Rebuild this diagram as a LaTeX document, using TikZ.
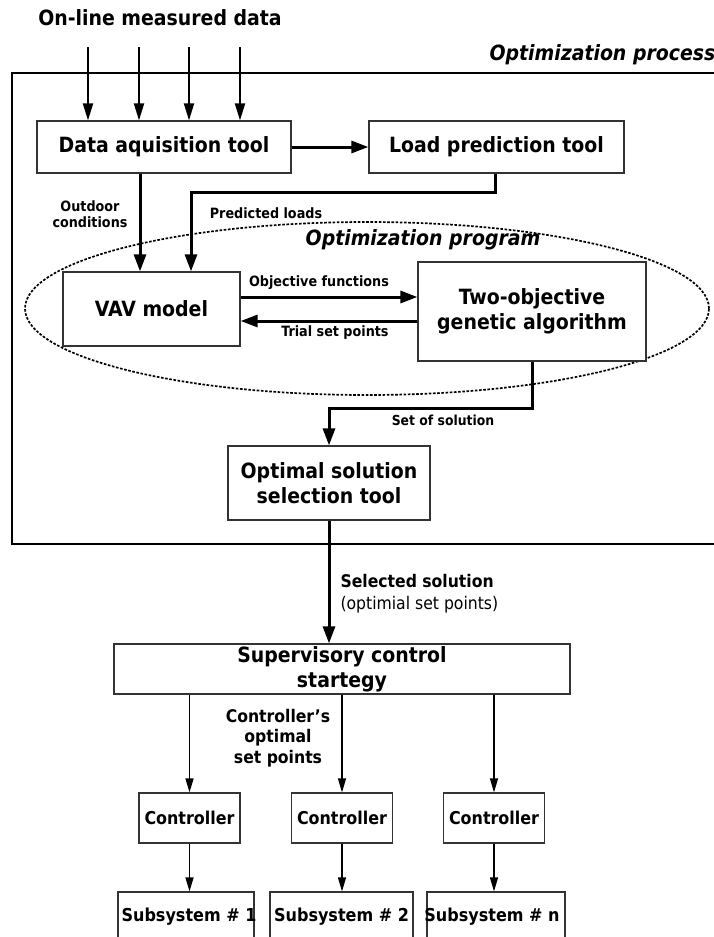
\documentclass[tikz,border=0pt]{standalone}
\usepackage{fontspec}
\setmainfont{DejaVu Sans Condensed}
\usetikzlibrary{arrows.meta}
\tikzset{
  tool/.style={draw=black!80, line width=1.2pt, fill=white, inner sep=2pt, align=center, font=\bfseries\fontsize{21}{25}\selectfont},
  ctrlbox/.style={tool, minimum width=101pt, minimum height=50pt, font=\bfseries\fontsize{17.7}{20}\selectfont},
  bigarr/.style={line width=3pt, -{Triangle[length=17pt, width=12pt]}},
  inarr/.style={line width=2pt, -{Triangle[length=17pt, width=10pt]}},
  thinarr/.style={line width=1.3pt, -{Triangle[length=14pt, width=8pt]}},
  lbl/.style={font=\bfseries\fontsize{14.2}{16.5}\selectfont, align=center},
  subtxt/.style={font=\bfseries\fontsize{17.8}{20}\selectfont},
}
\begin{document}
\begin{tikzpicture}[x=1pt, y=-1pt]
    \useasboundingbox (0,0) rectangle (714,937);
    \clip (0,0) rectangle (714,937);

    % outer frame
    \draw[line width=2pt] (12,73) rectangle (740,544);
    \node[font=\bfseries\itshape\fontsize{21}{24}\selectfont, anchor=west] (procname) at (486,55) {Optimization process};
    \node[font=\bfseries\fontsize{21}{24}\selectfont] (online) at (160,18) {On-line measured data};

    % tools
    \node[tool, minimum width=254pt, minimum height=52pt] (daq) at (164,147) {Data aquisition tool};
    \node[tool, minimum width=255pt, minimum height=52pt] (load) at (496.5,147) {Load prediction tool};

    % optimization program
    \draw[line width=1.7pt, dash pattern=on 2.6pt off 1.6pt] (367,308.5) ellipse [x radius=342pt, y radius=86.5pt];
    \node[font=\bfseries\itshape\fontsize{21}{24}\selectfont] (progname) at (423,240) {Optimization program};
    \node[tool, minimum width=177pt, minimum height=74pt] (vav) at (151.5,309) {VAV model};
    \node[tool, minimum width=228pt, minimum height=99pt] (ga) at (532,311.5) {Two-objective\\genetic algorithm};
    \node[tool, minimum width=202pt, minimum height=74pt] (opt) at (329,483) {Optimal solution\\selection tool};
    \node[tool, minimum width=456pt, minimum height=50pt] (sup) at (342,669) {Supervisory control\\startegy};

    % measured inputs
    \foreach \x [count=\i] in {88,139,189,240} {
        \coordinate (in\i) at (\x,47);
        \draw[inarr] (in\i) -- (in\i |- daq.north);
    }

    % thick connectors
    \draw[bigarr] (daq.east) -- (load.west);
    \draw[bigarr] ([xshift=-24pt]daq.south) -- ([xshift=-11.5pt]vav.north);
    \draw[bigarr] ([xshift=-1.5pt]load.south) -- ++(0,19) -| ([xshift=39.5pt]vav.north);
    \draw[bigarr] ([yshift=12pt]vav.east) -- ([yshift=12pt]vav.east -| ga.west);
    \draw[bigarr] ([yshift=-9.5pt]ga.west) -- ([yshift=-9.5pt]ga.west -| vav.east);
    \draw[bigarr] (ga.south) -- ++(0,47) -| (opt.north);
    \draw[bigarr] (opt.south) -- (opt.south |- sup.north);

    % labels
    \node[lbl] (outdoor) at (90,214) {Outdoor\\conditions};
    \node[lbl] (predlbl) at (266,213) {Predicted loads};
    \node[lbl] (objlbl) at (319,283) {Objective functions};
    \node[lbl] (triallbl) at (335,333) {Trial set points};
    \node[lbl, font=\bfseries\fontsize{13.8}{16}\selectfont] (setlbl) at (443,420) {Set of solution};
    \node[anchor=west, align=left, font=\fontsize{17.4}{22}\selectfont] (sellbl) at (337,594) {\bfseries Selected solution\\(optimial set points)};
    \node[lbl, font=\bfseries\fontsize{17.4}{20.5}\selectfont] (ctrllbl) at (278,738) {Controller\symbol{39}s\\optimal\\set points};

    % controllers and subsystems
    \foreach \x/\w/\n [count=\i] in {189.5/186/136, 342/341.5/143, 494/496/138} {
        \node[ctrlbox] (ctrl\i) at (\x,818) {Controller};
        \node[tool, minimum width=\n pt, minimum height=56pt] (sub\i) at (\w,920) {};
        \draw[thinarr] (ctrl\i.north |- sup.south) -- (ctrl\i.north);
        \draw[thinarr] (ctrl\i.south) -- (ctrl\i.south |- sub\i.north);
    }
    \node[subtxt] (sub1txt) at (189,917) {Subsystem \# 1};
    \node[subtxt] (sub2txt) at (341.5,917) {Subsystem \# 2};
    \node[subtxt] (sub3txt) at (492,917) {Subsystem \# n};
\end{tikzpicture}
\end{document}
